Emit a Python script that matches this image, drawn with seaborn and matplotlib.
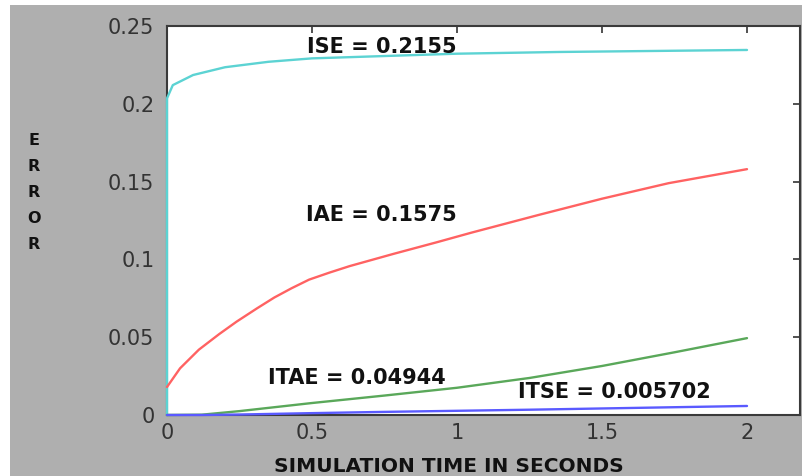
import pandas as pd
import seaborn as sns
from matplotlib import pyplot as plt
from matplotlib.patches import Rectangle

# error curves
ise_t = [0, 0, 0.02, 0.09, 0.2, 0.35, 0.5, 0.75, 1.0, 1.35, 1.6, 2.0]
ise_v = [0, 0.2035, 0.212, 0.2185, 0.2235, 0.227, 0.2292, 0.2307, 0.2322, 0.2333, 0.2338, 0.2346]

iae_t = [0, 0.045, 0.11, 0.18, 0.24, 0.31, 0.37, 0.43, 0.49, 0.56, 0.63, 0.78, 0.93, 1.05, 1.28, 1.5, 1.73, 2.0]
iae_v = [0.018, 0.030, 0.042, 0.052, 0.060, 0.0685, 0.0755, 0.0815, 0.087, 0.0915, 0.0957, 0.1035, 0.111, 0.1172, 0.1285, 0.139, 0.149, 0.158]

itae_t = [0, 0.12, 0.25, 0.5, 0.75, 1.0, 1.25, 1.5, 1.75, 2.0]
itae_v = [0, 0.0002, 0.0025, 0.0077, 0.0125, 0.0175, 0.0238, 0.0315, 0.0403, 0.0494]

itse_t = [0, 0.12, 0.25, 0.5, 0.75, 1.0, 1.25, 1.5, 1.75, 2.0]
itse_v = [0, 0, 0.0003, 0.0012, 0.002, 0.0027, 0.0034, 0.0042, 0.005, 0.0058]

series = ["ISE", "IAE", "ITAE", "ITSE"]
labels = ["ISE = 0.2155", "IAE = 0.1575", "ITAE = 0.04944", "ITSE = 0.005702"]
label_pos = [(0.483, 0.2362), (0.481, 0.1285), (0.348, 0.0235), (1.21, 0.0145)]

xticks = [0, 0.5, 1, 1.5, 2]
xticklabels = ["0", "0.5", "1", "1.5", "2"]
yticks = [0, 0.05, 0.1, 0.15, 0.2, 0.25]
yticklabels = ["0", "0.05", "0.1", "0.15", "0.2", "0.25"]

colors = {"ISE": "#5cd3d3", "IAE": "#ff6262", "ITAE": "#5aa85a", "ITSE": "#5a5aff"}

frames = []
for name, t, v in zip(series, [ise_t, iae_t, itae_t, itse_t], [ise_v, iae_v, itae_v, itse_v]):
    frames.append(pd.DataFrame({"t": t, "err": v, "series": name}))
df = pd.concat(frames, ignore_index=True)

sns.set_style("white")
plt.rcParams["font.family"] = ["DejaVu Sans"]

fig = plt.figure(figsize=(8.03, 4.76), dpi=100, facecolor="white")
fig.patches.append(Rectangle((10 / 803, 0), 1, 1 - 5 / 476, transform=fig.transFigure,
                             facecolor="#afafaf", edgecolor="none", zorder=-10))
ax = fig.add_axes([167 / 803, 1 - 415 / 476, (800 - 167) / 803, (415 - 26) / 476])
ax.set_zorder(1)
ax.set_facecolor("white")

sns.lineplot(data=df, x="t", y="err", hue="series", palette=colors,
             estimator=None, sort=False, legend=False, linewidth=1.7, ax=ax)
for line in ax.lines:
    line.set_zorder(3)
    line.set_clip_on(False)

ax.set_xlim(0, 633 / 290)
ax.set_ylim(0, 0.25)
ax.set_xticks(xticks)
ax.set_xticklabels(xticklabels)
ax.set_yticks(yticks)
ax.set_yticklabels(yticklabels)
ax.tick_params(direction="in", length=5, width=1.2, color="#333333", labelsize=15,
               labelcolor="#333333", top=True, right=True)
ax.tick_params(axis="y", pad=9)
ax.tick_params(axis="x", pad=6)
for s in ax.spines.values():
    s.set_color("#3a3a3a")
    s.set_linewidth(1.5)
ax.set_xlabel("")
ax.set_ylabel("")

for text, (x, y) in zip(labels, label_pos):
    ax.text(x, y, text, ha="left", va="center", fontsize=15, fontweight="bold", color="#111111")

fig.text(449 / 803, 1 - 466 / 476, "SIMULATION TIME IN SECONDS", ha="center", va="center",
         fontsize=14.5, fontweight="bold", color="#111111")
fig.text(34 / 803, 1 - 192.5 / 476, "E\nR\nR\nO\nR", ha="center", va="center",
         fontsize=11.5, fontweight="bold", color="#111111", linespacing=1.9)

plt.savefig("out.png", dpi=100, facecolor=fig.get_facecolor())
